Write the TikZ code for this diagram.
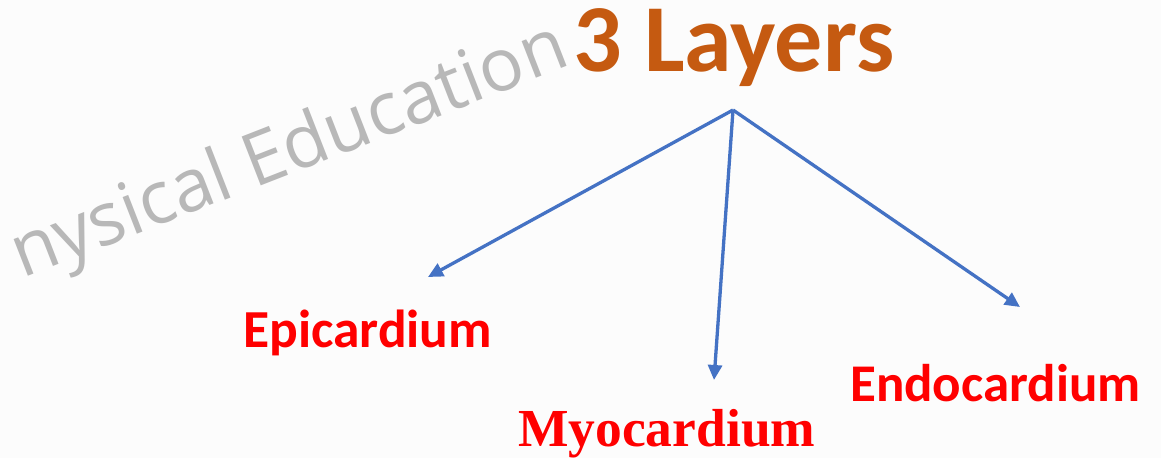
\documentclass[tikz,border=0pt]{standalone}
\usepackage{fontspec}
\setmainfont{Carlito}
\newfontfamily\serifbold{Liberation Serif}
\newfontfamily\wmfont{Open Sans}
\usetikzlibrary{arrows.meta}
\definecolor{titlecol}{HTML}{C55A11}
\definecolor{arrowcol}{HTML}{4472C4}
\definecolor{labelred}{HTML}{FF0000}
\definecolor{wmgray}{HTML}{B8B8B8}
\tikzset{
  conn/.style={draw=arrowcol, line width=3.3pt, -{Triangle[length=15pt,width=14pt]}},
  lab/.style={inner sep=0pt, anchor=base west, text=labelred, font=\fontsize{53.5}{53.5}\selectfont\bfseries},
}
\begin{document}
\begin{tikzpicture}[x=1pt,y=-1pt]
\useasboundingbox (0,0) rectangle (1161,458);
\fill[white!99!black] (0,0) rectangle (1161,458);
\begin{scope}
\clip (0,0) rectangle (1161,458);
\node[inner sep=0pt, anchor=base west, rotate=21.3, text=wmgray, font=\wmfont\fontsize{73.5}{73.5}\selectfont] (wm) at (22,279) {nysical Education};
\end{scope}
\node[inner sep=0pt, anchor=base, text=titlecol, font=\fontsize{96}{96}\selectfont\bfseries] (title) at (734,71) {3 Layers};
\coordinate (apex) at (733,110);
\coordinate (tipL) at (428,277);
\coordinate (tipM) at (714,380);
\coordinate (tipR) at (1020,307);
\node[lab] (epi) at (243,347) {Epicardium};
\node[lab, font=\serifbold\fontsize{53.5}{53.5}\selectfont\bfseries] (myo) at (518,446) {Myocardium};
\node[lab, font=\fontsize{53}{53}\selectfont\bfseries] (endo) at (850,401) {Endocardium};
\draw[conn] (apex) -- (tipL);
\draw[conn] (apex) -- (tipM);
\draw[conn] (apex) -- (tipR);
\end{tikzpicture}
\end{document}
